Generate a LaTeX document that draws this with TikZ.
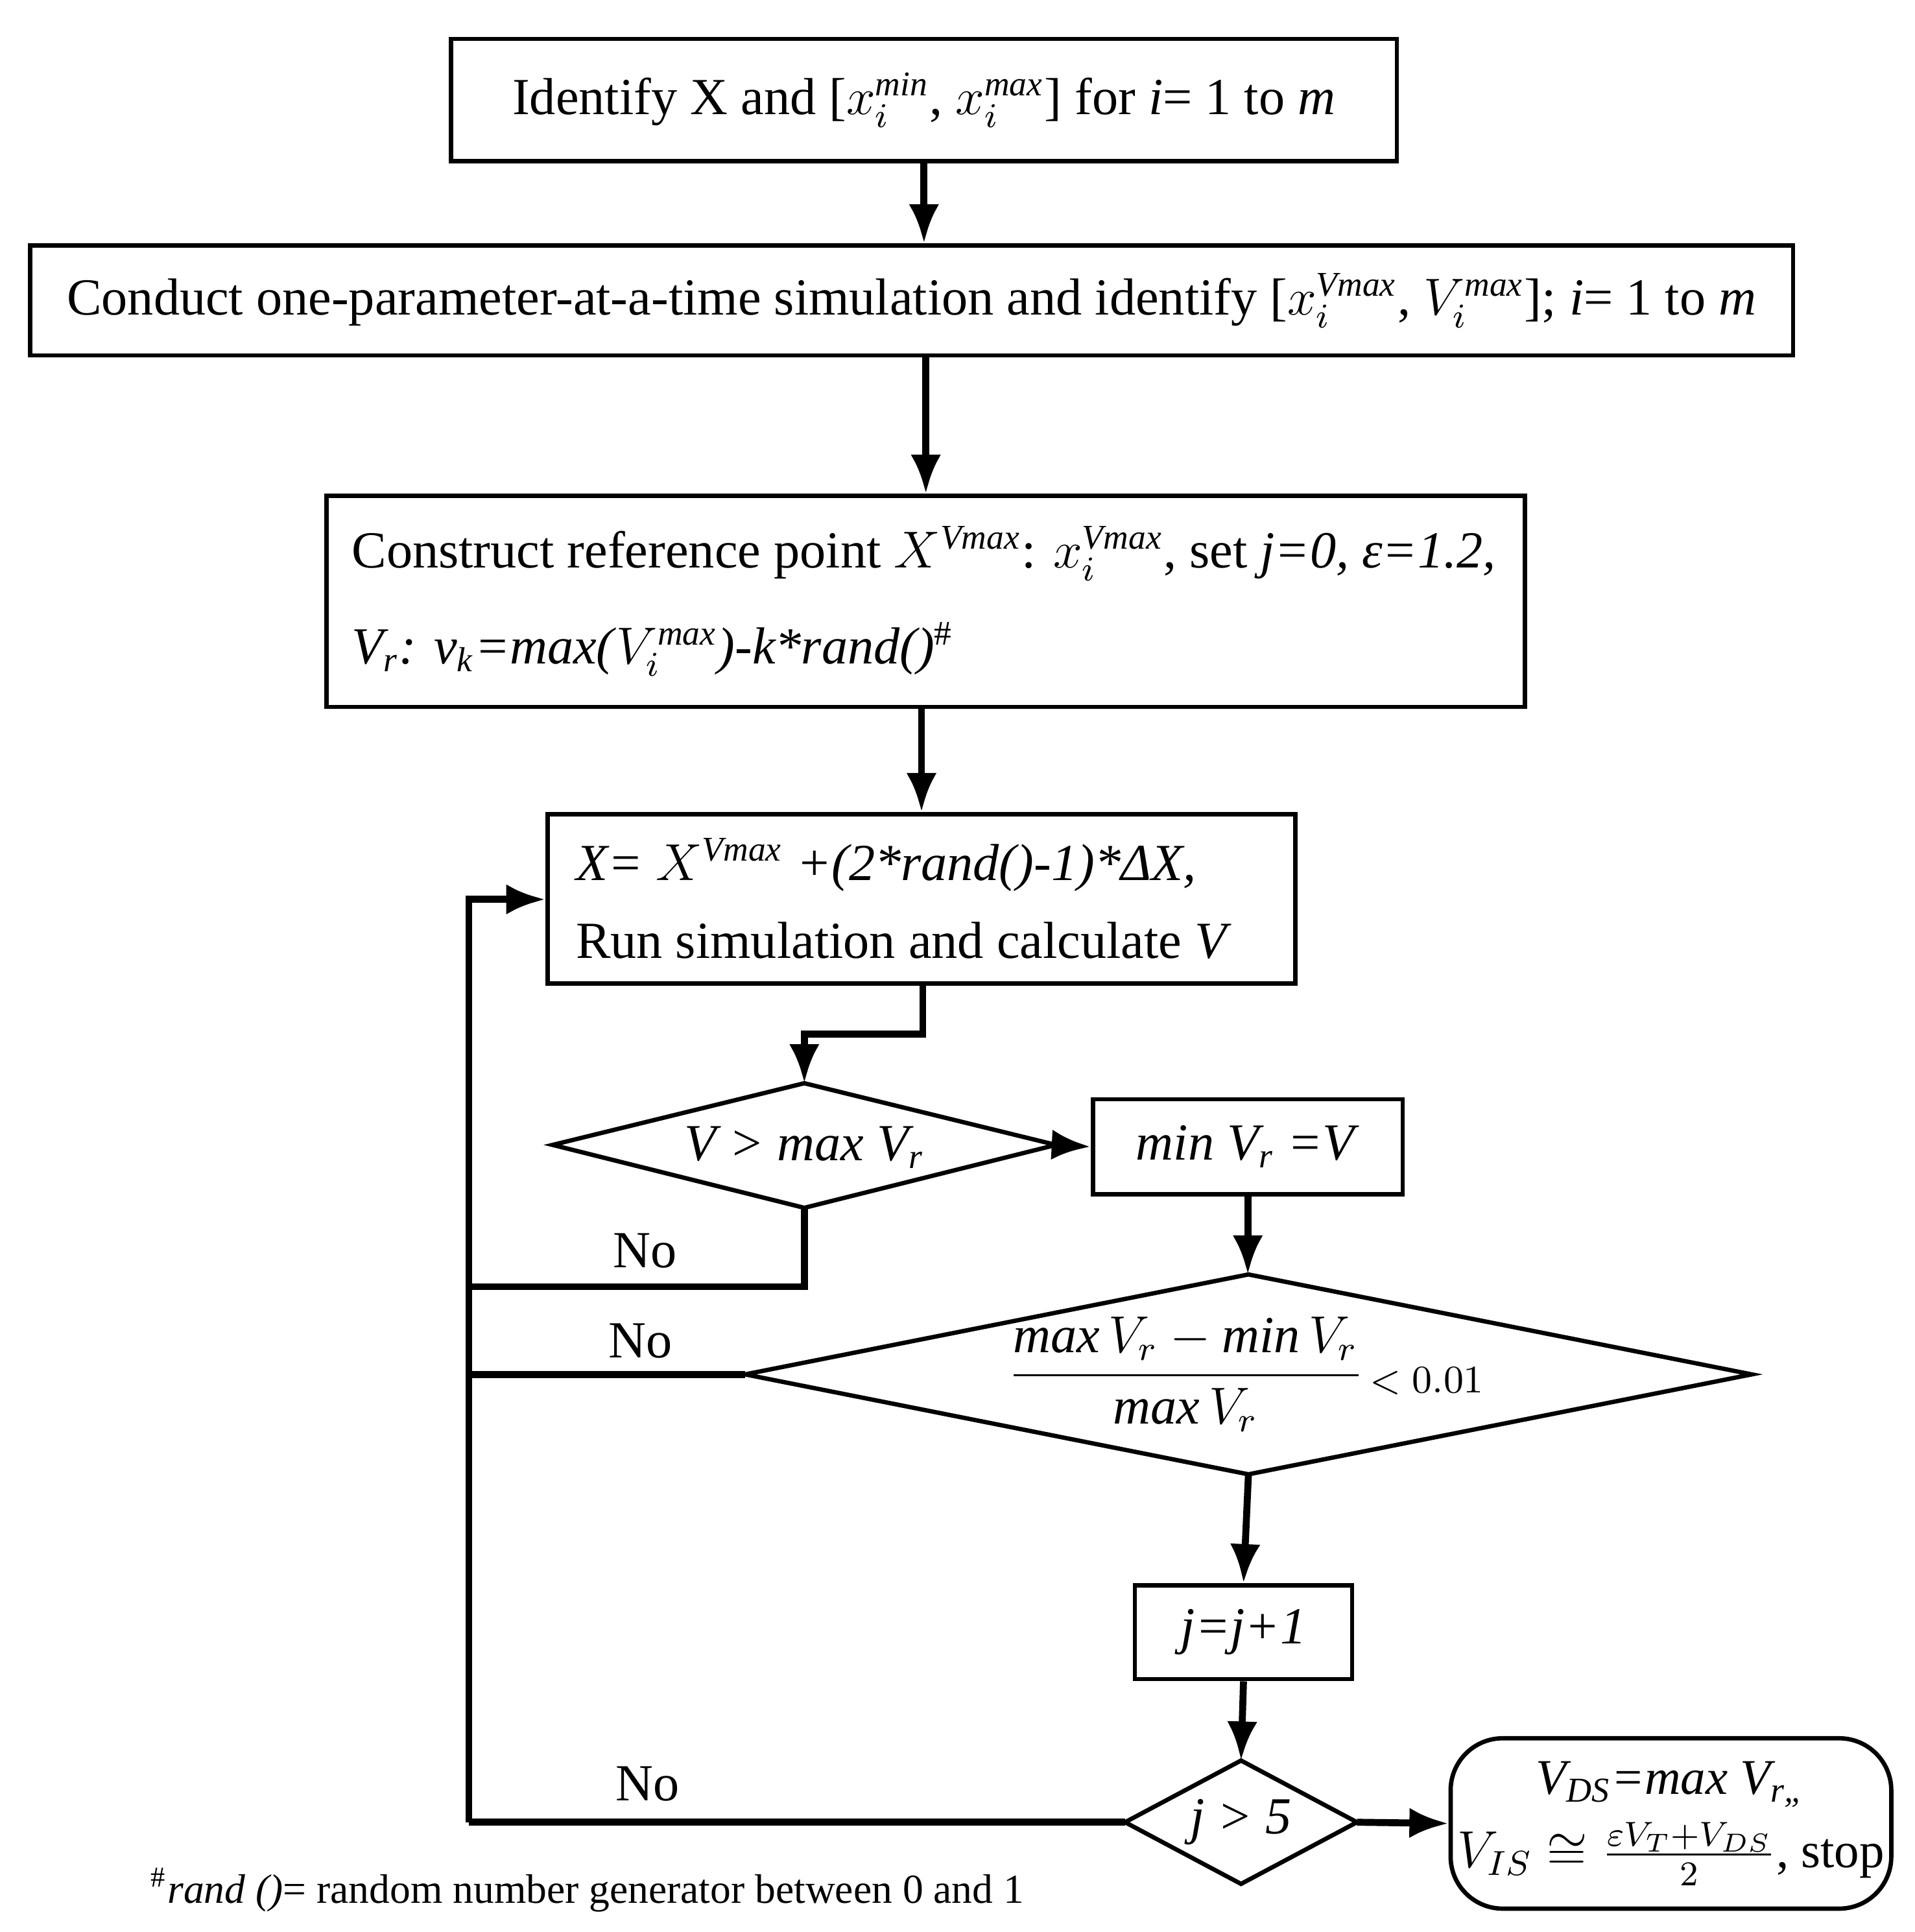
\documentclass[tikz,border=0pt]{standalone}
\usepackage{amsmath,amssymb}
\usepackage{fontspec}
\setmainfont{Liberation Serif}
\usetikzlibrary{arrows.meta}
\begin{document}
\begin{tikzpicture}[x=0.01cm,y=-0.01cm,
  box/.style={draw,line width=1pt,inner sep=0pt,font=\fontsize{12}{18}\selectfont},
  dia/.style={draw,line width=1pt},
  arr/.style={line width=1.6pt,-{Latex[length=9pt,width=7pt]}},
  ln/.style={line width=1.6pt},
  lab/.style={font=\fontsize{12}{14}\selectfont}]
\useasboundingbox (0,0) rectangle (1552,1566);
\newcommand{\mv}[1]{\mathit{#1}}
\node[box,minimum width=7.66cm,minimum height=0.99cm] (b1) at (749,81) {Identify X and [$x_i^{\mv{min}}$, $x_i^{\mv{max}}$] for \textit{i}= 1 to \textit{m}};
\node[box,minimum width=14.28cm,minimum height=0.89cm] (b2) at (739,243.5) {Conduct one-parameter-at-a-time simulation and identify [$x_i^{\mv{Vmax}}$, $V_i^{\mv{max}}$]; \textit{i}= 1 to \textit{m}};
\node[box,minimum width=9.71cm,minimum height=1.71cm,align=flush left,text width=9.3cm] (b3) at (750.5,487.5) {Construct reference point $X^{\mv{Vmax}}$: $x_i^{\mv{Vmax}}$, set \textit{j=0, ε=1.2,}\\[4pt] \textit{V\textsubscript{r}: v\textsubscript{k}=max(}$V_i^{\mv{max}}$\textit{)-k*rand()}\textsuperscript{\#}};
\node[box,minimum width=6.06cm,minimum height=1.37cm,align=flush left,text width=5.6cm] (b4) at (747,728.5) {\textit{X= }$X^{\mv{Vmax}}$\textit{ +(2*rand()-1)*ΔX,}\\ Run simulation and calculate \textit{V}};
\node[box,minimum width=2.51cm,minimum height=0.77cm] (b5) at (1011.5,929.5) {\textit{min V\textsubscript{r} =V}};
\node[box,minimum width=1.76cm,minimum height=0.76cm] (b6) at (1008,1323) {\textit{j=j+1}};
\node[box,rounded corners=12pt,minimum width=3.57cm,minimum height=1.38cm,align=center,font=\fontsize{11.5}{17}\selectfont] (b7) at (1354.5,1478) {\textit{V\textsubscript{DS}=max V\textsubscript{r,,}}\\ $V_{IS}\cong\frac{\varepsilon V_T+V_{DS}}{2}$, stop};
% diamonds
\coordinate (d1t) at (652,878); \coordinate (d1b) at (652,979);
\coordinate (d1l) at (448,928); \coordinate (d1r) at (856,928);
\draw[dia] (d1t)--(d1r)--(d1b)--(d1l)--cycle;
\node[lab] (d1) at (652,930) {\textit{V > max V\textsubscript{r}}};
\coordinate (d2t) at (1012,1033); \coordinate (d2b) at (1012,1195);
\coordinate (d2l) at (604,1114); \coordinate (d2r) at (1420,1114);
\draw[dia] (d2t)--(d2r)--(d2b)--(d2l)--cycle;
\node[lab] (d2) at (1010,1114) {$\dfrac{\mathit{max}\,V_r-\mathit{min}\,V_r}{\mathit{max}\,V_r}$\raisebox{-0.2ex}{\fontsize{9}{11}\selectfont\,$<0.01$}};
\coordinate (d3t) at (1006,1427); \coordinate (d3b) at (1006,1527);
\coordinate (d3l) at (912,1477); \coordinate (d3r) at (1100,1477);
\draw[dia] (d3t)--(d3r)--(d3b)--(d3l)--cycle;
\node[lab] (d3) at (1006,1477) {\textit{j > 5}};
% connectors
\draw[arr] (b1.south) -- (b1.south |- b2.north);
\draw[arr] (b2.south -| b3.north) -- (b3.north);
\draw[arr] (b3.south -| b4.north) -- (b4.north);
\coordinate (k1) at (748,838);
\draw[arr] (b4.south -| k1) -- (k1) -| (d1t);
\draw[arr] (d1r) -- (b5.west);
\draw[arr] (b5.south) -- (b5.south |- d2t);
\draw[arr] (d2b) -- (b6.north);
\draw[arr] (b6.south) -- (d3t);
\draw[arr] (d3r) -- (b7.west);
\coordinate (c1) at (380,1043); \coordinate (c2) at (380,1114);
\coordinate (c3) at (380,1477); \coordinate (c4) at (380,729);
\draw[ln] (d1b) |- (c1);
\draw[ln] (d2l) -- (c2);
\draw[ln] (d3l) -- (c3);
\draw[arr] (c3) -- (c4) -- (c4 -| b4.west);
\node[lab] (n1) at (523,1014) {No};
\node[lab] (n2) at (519,1087) {No};
\node[lab] (n3) at (525,1446) {No};
\node[font=\fontsize{9.5}{12}\selectfont,anchor=west] (fn) at (110,1532) {\textsuperscript{\#}\textit{rand ()}= random number generator between 0 and 1};
\end{tikzpicture}
\end{document}
